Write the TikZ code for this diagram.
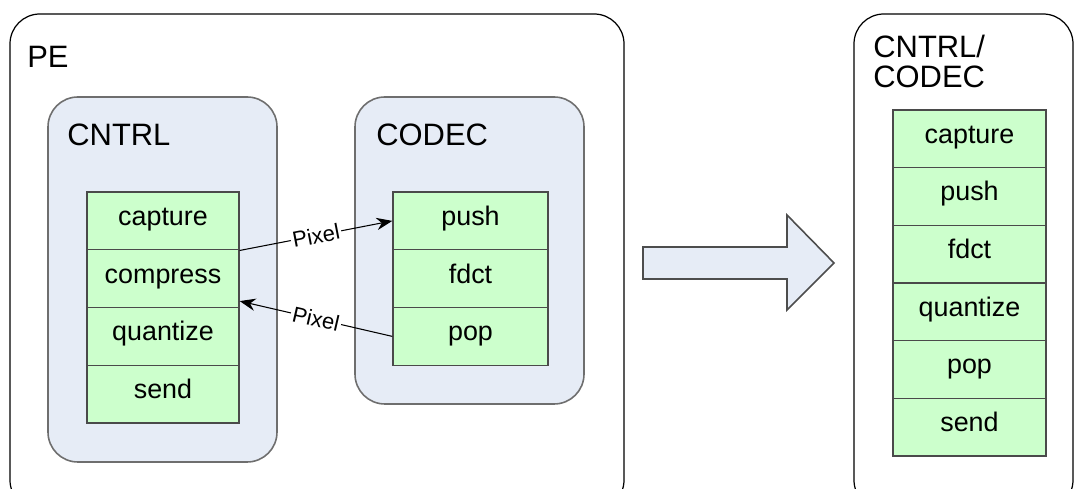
\documentclass[tikz,border=0pt]{standalone}
\usepackage{fontspec}
\setmainfont{Liberation Sans}
\usetikzlibrary{arrows.meta}
\definecolor{stageblue}{HTML}{E6ECF6}
\definecolor{taskgreen}{HTML}{CCFFCC}
\definecolor{stagegray}{HTML}{6E6E6E}
\definecolor{taskgray}{HTML}{4A4A4A}

\begin{document}
\begin{tikzpicture}[x=0.02cm,y=-0.02cm]
    \useasboundingbox (0,0) rectangle (1076,489);
    \clip (0,0) rectangle (1076,489);

    % outer containers
    \draw[line width=0.7pt,rounded corners=17pt] (10,14) rectangle (624,510);
    \draw[line width=0.7pt,rounded corners=17pt] (854,14) rectangle (1073,510);
    \draw[stagegray,line width=0.9pt,fill=stageblue,rounded corners=17pt] (48,97) rectangle (277,462);
    \draw[stagegray,line width=0.9pt,fill=stageblue,rounded corners=17pt] (355,97) rectangle (584,404);

    % big arrow
    \draw[stagegray!70!black,line width=0.9pt,fill=stageblue]
      (643,247) -- (787,247) -- (787,215) -- (834,263) -- (787,310) -- (787,279) -- (643,279) -- cycle;

    \begin{scope}[every node/.style={anchor=base west,inner sep=0pt,font=\fontsize{17.6}{17}\selectfont}]
      \node (pe) at (27,68) {PE};
      \node (cntrl) at (67,146) {CNTRL};
      \node (codec) at (376,146) {CODEC};
      \node[anchor=north west,align=left] (merged) at (873,35) {CNTRL/\\CODEC};
    \end{scope}

    \begin{scope}[every node/.style={draw=taskgray,line width=0.8pt,fill=taskgreen,inner sep=0pt,
        minimum height=1.155cm,text height=0.72em,text depth=0.21em,font=\fontsize{15.3}{18}\selectfont}]
      \node[minimum width=3.04cm] (cn1) at (163,220.9) {capture};
      \node[minimum width=3.04cm] (cn2) at (163,278.6) {compress};
      \node[minimum width=3.04cm] (cn3) at (163,336.4) {quantize};
      \node[minimum width=3.04cm] (cn4) at (163,394.1) {send};

      \node[minimum width=3.1cm] (cd1) at (470.5,220.9) {push};
      \node[minimum width=3.1cm] (cd2) at (470.5,278.6) {fdct};
      \node[minimum width=3.1cm] (cd3) at (470.5,336.4) {pop};

      \node[minimum width=3.06cm] (mg1) at (969.5,138.8) {capture};
      \node[minimum width=3.06cm] (mg2) at (969.5,196.5) {push};
      \node[minimum width=3.06cm] (mg3) at (969.5,254.2) {fdct};
      \node[minimum width=3.06cm] (mg4) at (969.5,311.8) {quantize};
      \node[minimum width=3.06cm] (mg5) at (969.5,369.5) {pop};
      \node[minimum width=3.06cm] (mg6) at (969.5,427.2) {send};
    \end{scope}

    \coordinate (cn2in) at ([yshift=-0.45cm]cn2.east);

    \begin{scope}[>={Stealth[length=9pt,width=7pt]},
        every node/.style={fill=white,inner sep=1pt,sloped,font=\fontsize{12.5}{14}\selectfont},
        every edge/.style={draw,line width=0.6pt}]
      \path [->] (cn1.south east) edge node {Pixel} (cd1.west);
      \path [->] (cd3.west) edge node {Pixel} (cn2in);
    \end{scope}
\end{tikzpicture}
\end{document}
